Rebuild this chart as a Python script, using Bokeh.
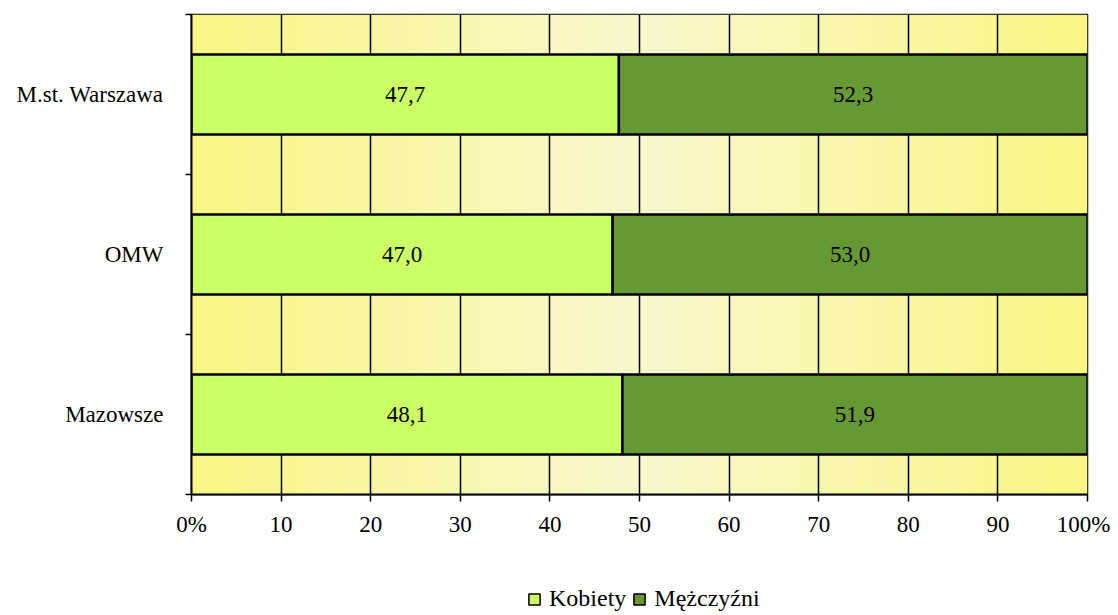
import numpy as np
from bokeh.plotting import figure
from bokeh.layouts import column
from bokeh.models import FixedTicker, Legend, LegendItem, ColumnDataSource, Range1d
from bokeh.core.properties import value
from bokeh.embed import file_html
from bokeh.resources import INLINE

categories = ["Mazowsze", "OMW", "M.st. Warszawa"]
kobiety = [48.1, 47.0, 47.7]
mezczyzni = [51.9, 53.0, 52.3]
series_names = ["Kobiety", "Mężczyźni"]
x_ticks = [0, 10, 20, 30, 40, 50, 60, 70, 80, 90, 100]
x_tick_labels = ["0%", "10", "20", "30", "40", "50", "60", "70", "80", "90", "100%"]

FONT = "Liberation Serif"
C_K = "#CCFF66"
C_M = "#669933"

p = figure(frame_width=896, frame_height=480, min_border_left=191, min_border_top=14,
           min_border_right=23, min_border_bottom=86,
           x_range=Range1d(0, 100), y_range=Range1d(0, 3),
           output_backend="svg", toolbar_location=None, background_fill_color="white")

# background gradient (styling)
n = 200
t = np.abs(np.linspace(0, 1, n) - 0.5) * 2
edge = np.array([248, 246, 132])
center = np.array([248, 248, 206])
cols = (center[None, :] * (1 - t[:, None]) + edge[None, :] * t[:, None]).astype(np.uint32)
img = np.empty((1, n), dtype=np.uint32)
view = img.view(dtype=np.uint8).reshape((1, n, 4))
view[0, :, 0] = cols[:, 0]
view[0, :, 1] = cols[:, 1]
view[0, :, 2] = cols[:, 2]
view[0, :, 3] = 255
bg = p.image_rgba(image=[img], x=0, y=0, dw=100, dh=3)
bg.level = "image"

# grid
p.xgrid.ticker = FixedTicker(ticks=x_ticks)
p.xgrid.grid_line_color = "black"
p.xgrid.grid_line_width = 1.5
p.ygrid.grid_line_color = None

ypos = [i + 0.5 for i in range(len(categories))]
left_m = kobiety
right_m = [k + m for k, m in zip(kobiety, mezczyzni)]
src = ColumnDataSource(dict(y=ypos, k=kobiety, m=mezczyzni, lm=left_m, rm=right_m,
                            kx=[k / 2 for k in kobiety],
                            mx=[k + m / 2 for k, m in zip(kobiety, mezczyzni)],
                            kt=[f"{v:.1f}".replace(".", ",") for v in kobiety],
                            mt=[f"{v:.1f}".replace(".", ",") for v in mezczyzni]))

rk = p.hbar(y="y", left=0, right="k", height=0.5, source=src, fill_color=C_K,
            line_color="black", line_width=2.5)
rm = p.hbar(y="y", left="lm", right="rm", height=0.5, source=src, fill_color=C_M,
            line_color="black", line_width=2.5)

p.text(x="kx", y="y", text="kt", source=src, text_align="center", text_baseline="middle",
       text_font=value(FONT), text_font_size="23px", text_color="black")
p.text(x="mx", y="y", text="mt", source=src, text_align="center", text_baseline="middle",
       text_font=value(FONT), text_font_size="23px", text_color="black")

p.outline_line_color = "black"
p.outline_line_width = 1.5

# x axis
xa = p.xaxis[0]
xa.ticker = FixedTicker(ticks=x_ticks, minor_ticks=[])
xa.major_label_overrides = {float(k): v for k, v in zip(x_ticks, x_tick_labels)}
xa.axis_line_color = "black"
xa.axis_line_width = 2
xa.major_tick_line_color = "black"
xa.major_tick_line_width = 1.5
xa.major_tick_out = 7
xa.major_tick_in = 0
xa.minor_tick_line_color = None
xa.major_label_text_font = FONT
xa.major_label_text_font_size = "23px"
xa.major_label_text_color = "black"
xa.major_label_standoff = 10

# y axis
ya = p.yaxis[0]
ya.ticker = FixedTicker(ticks=ypos, minor_ticks=[0, 1, 2, 3])
ya.major_label_overrides = {float(y): c for y, c in zip(ypos, categories)}
ya.axis_line_color = "black"
ya.axis_line_width = 2
ya.major_tick_line_color = None
ya.minor_tick_line_color = "black"
ya.minor_tick_line_width = 1.5
ya.minor_tick_out = 6
ya.minor_tick_in = 0
ya.major_label_text_font = FONT
ya.major_label_text_font_size = "23px"
ya.major_label_text_color = "black"
ya.major_label_standoff = 22

# legend strip (separate figure below the chart)
lf = figure(frame_width=896, frame_height=34, min_border_left=191, min_border_top=0,
            min_border_right=23, min_border_bottom=0,
            x_range=Range1d(0, 1), y_range=Range1d(0, 1),
            output_backend="svg", toolbar_location=None)
lf.axis.visible = False
lf.grid.visible = False
lf.outline_line_color = None
nan = float("nan")
lk = lf.hbar(y=[nan], left=[nan], right=[nan], height=0.5, fill_color=C_K,
             line_color="black", line_width=1.5)
lm = lf.hbar(y=[nan], left=[nan], right=[nan], height=0.5, fill_color=C_M,
             line_color="black", line_width=1.5)
legend = Legend(items=[LegendItem(label=series_names[0], renderers=[lk]),
                       LegendItem(label=series_names[1], renderers=[lm])],
                orientation="horizontal", location=(336, 2),
                label_text_font=FONT, label_text_font_size="24px", label_text_color="black",
                glyph_width=14, glyph_height=14, label_standoff=8, spacing=6,
                padding=0, margin=0, border_line_color=None,
                background_fill_alpha=0)
lf.add_layout(legend, "center")

layout = column(p, lf, spacing=0)
open("out.html", "w").write(file_html(layout, INLINE))
